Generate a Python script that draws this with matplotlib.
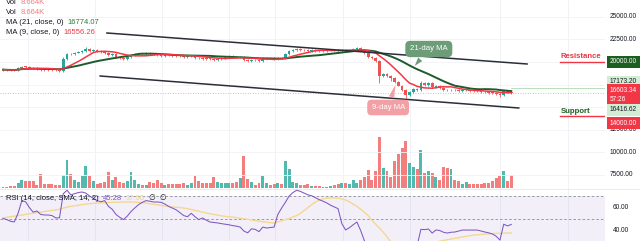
import matplotlib
matplotlib.use("Agg")
import matplotlib.pyplot as plt
import numpy as np
import pandas as pd
from matplotlib.lines import Line2D
from matplotlib.transforms import blended_transform_factory

plt.rcParams['font.family'] = ['Liberation Sans', 'DejaVu Sans']

# ---------------- data ----------------
closes = [
    19150, 19120, 19100, 19080, 19300, 19500, 19450, 19350, 19300, 19250,
    19150, 19130, 19120, 19100, 19080, 19050, 20300, 20900, 20850, 21050,
    21150, 21200, 21400, 21250, 21300, 21200, 21100, 21000, 20800, 20900,
    20600, 20450, 20350, 20500, 20750, 20850, 20900, 20850, 20950, 20900,
    20850, 20750, 20700, 20800, 20750, 20700, 20680, 20650, 20600, 20650,
    20700, 20450, 20400, 20380, 20350, 20330, 20200, 20350, 20450, 20550,
    20650, 20550, 20500, 20600, 20200, 20150, 20250, 20200, 20150, 20400,
    20450, 20400, 20350, 20450, 20400, 20900, 21200, 21300, 21400, 21350,
    21300, 21250, 21300, 21250, 21200, 21250, 21300, 21350, 21300, 21250,
    21350, 21300, 21350, 21450, 21500, 21300, 21000, 20600, 20400, 20100,
    18400, 18650, 18500, 18200, 17800, 17400, 16900, 16400, 16700, 17000,
    16850, 17650, 17500, 17650, 17250, 17350, 17150, 16950, 16850, 16950,
    16850, 16800, 16850, 16900, 16820, 16780, 16740, 16700, 16660, 16620,
    16580, 16500, 16350, 16750, 16680, 16603,
]
first_open = 19200
long_lows = {100: 17700, 107: 16050, 132: 16100, 103: 17900}
long_highs = {111: 17950, 16: 20550, 100: 20200, 22: 21650}

volume_k = [
    0.67, 0.67, 1.0, 1.33, 3.33, 5.33, 4.67, 4.67, 4.67, 2.0,
    9.33, 2.67, 2.67, 2.67, 2.0, 2.0, 8.66, 18.66, 9.33, 5.33,
    4.0, 8.0, 14.66, 8.0, 4.67, 2.67, 3.33, 4.0, 10.66, 5.33,
    7.33, 4.0, 3.33, 4.67, 10.66, 5.33, 2.67, 2.0, 2.0, 4.0,
    3.33, 5.33, 3.33, 2.0, 2.67, 2.67, 2.67, 2.67, 3.33, 2.0,
    3.33, 8.0, 4.67, 3.33, 3.33, 3.33, 7.33, 4.0, 3.33, 3.33,
    3.33, 3.33, 4.0, 6.66, 21.33, 6.0, 4.0, 2.0, 3.33, 8.0,
    3.33, 2.0, 2.67, 3.33, 2.67, 18.0, 12.66, 4.0, 3.33, 2.0,
    2.0, 2.67, 1.33, 1.33, 1.33, 0.67, 0.67, 1.33, 2.0, 2.67,
    3.33, 3.33, 2.67, 5.33, 3.33, 5.33, 7.33, 12.0, 5.33, 11.33,
    34.0, 13.33, 11.33, 7.33, 18.0, 22.66, 26.66, 31.33, 16.66, 14.0,
    12.66, 25.33, 10.0, 11.33, 10.0, 7.33, 5.33, 14.0, 13.33, 12.66,
    5.33, 4.67, 2.67, 4.0, 2.67, 2.67, 2.67, 2.67, 3.33, 3.33,
    4.67, 6.66, 8.0, 11.33, 4.67, 8.66,
]

rsi_vals = [
    50.5, 49.5, 48, 47.5, 55, 66, 65, 60, 56, 57,
    54, 53.5, 53.5, 53, 51, 51, 72, 75, 71, 72,
    73, 73.5, 72.5, 70, 68, 66, 65, 66, 61, 58.5,
    54, 51.5, 49.5, 52.5, 56.5, 59.6, 62.5, 64.5, 66, 65.5,
    64.8, 64.8, 64.5, 63, 61, 59.5, 58, 55.5, 53, 52,
    55, 52, 49.5, 50.9, 49, 47.4, 47, 46.6, 46, 45.5,
    45, 44.3, 43.8, 43, 39.5, 38, 41.5, 41, 39, 43,
    42.2, 42.6, 43, 54, 59.5, 64.5, 70, 73, 75, 74,
    72.5, 71, 70.2, 68.5, 66.8, 65.5, 64, 62, 60.5, 59,
    46, 40.5, 42.5, 45, 47.4, 40, 31, 27, 25, 24,
    20, 22, 21, 19, 17, 15, 13, 12, 18, 24,
    27, 41, 40.8, 41.3, 37.8, 40.5, 40, 38.5, 37.8, 38.5,
    38.7, 39.5, 40.4, 40.4, 40.4, 40.4, 40.4, 39.5, 38.7, 38,
    37, 35, 31.7, 45.5, 44, 45.3,
]
rsi_sma = [
    51, 51.5, 52, 52.5, 53, 53.5, 54, 54.5, 55, 55.5,
    56, 56.5, 57, 57.5, 58, 58.5, 59.5, 60.4, 61, 61.5,
    62, 62.5, 63, 63.3, 63.6, 63.9, 64, 64.2, 64.4, 64.5,
    64.6, 64.7, 64.8, 64.8, 64.8, 64.7, 64.5, 64.2, 63.8, 63.3,
    62.8, 62.3, 61.8, 61.3, 60.8, 60.4, 60.2, 60.0, 59.5, 59.0,
    58.3, 57.5, 56.8, 56, 55.3, 54.6, 54, 53.4, 52.8, 52.3,
    51.9, 51.7, 51.2, 50.7, 50.2, 49.7, 49.2, 48.7, 48.2, 47.7,
    47.2, 46.8, 46.5, 47.5, 48.5, 49.5, 50.5, 51.7, 53, 55,
    57.5, 60, 62.5, 64.8, 66.5, 67.5, 68.2, 68.3, 68.3, 68.0,
    67.5, 66.5, 65, 63, 61, 58.5, 56, 53, 49, 45.5,
    42, 38.5, 34.5, 30, 27.5, 25.5, 24, 23, 22.5, 22.5,
    23, 24, 25.5, 27, 28.5, 29.8, 30.8, 31.4, 32, 32.6,
    33.2, 33.8, 34.4, 35, 35.5, 36, 36.3, 36.6, 36.9, 37.1,
    37.3, 37.5, 37.6, 37.7, 37.8, 37.9,
]

upper_trend_x = [27.6, 139.2]
upper_trend_y = [23208, 19779]
lower_trend_x = [25.8, 137.0]
lower_trend_y = [18451, 14912]
resistance = 20000
support = 14000
last_price = 16603.34
marked_level = 17173.20
scale_ticks = [25000, 22500, 12500, 10000, 7500]
rsi_ticks = [60, 40]

# ---------------- figure ----------------
W, H = 640, 241
fig = plt.figure(figsize=(6.4, 2.41), dpi=100)
fig.patch.set_facecolor('white')

def fx(px):
    return px / W

def fy(py):
    return 1 - py / H

PANE_R = 605
PRICE_B = 189
price_rect = [0, fy(PRICE_B), fx(PANE_R), PRICE_B / H]
rsi_rect = [0, 0, fx(PANE_R), (H - PRICE_B) / H]

ax_vol = fig.add_axes(price_rect)
ax = fig.add_axes(price_rect, sharex=ax_vol)
ax_rsi = fig.add_axes(rsi_rect, sharex=ax_vol)
for a in (ax_vol, ax, ax_rsi):
    a.patch.set_visible(False)
    for s in a.spines.values():
        s.set_visible(False)
    a.set_xticks([])
    a.set_yticks([])

# faint vertical grid (figure-level)
for gp in [28, 95, 162, 229, 275, 343, 410, 500, 568]:
    fig.add_artist(Line2D([fx(gp)] * 2, [0, 1], color='#eef0f5', lw=0.6, zorder=-5))
# separator between panes
fig.add_artist(Line2D([0, 1], [fy(PRICE_B)] * 2, color='#e6e8ee', lw=0.6, zorder=-4))

n = len(closes)
idx = np.arange(n)
c = np.array(closes, dtype=float)
o = np.concatenate([[first_open], c[:-1]])
up = c >= o
wick = 110
hi = np.maximum(o, c) + wick
lo = np.minimum(o, c) - wick
for k, v in long_lows.items():
    lo[k] = v
for k, v in long_highs.items():
    hi[k] = v

GREEN = '#26a69a'
RED = '#ef5350'
cols = np.where(up, GREEN, RED)
vcols = np.where(up, '#52b9af', '#f27f7d')

xmin, xmax = -0.8, 159.9
ax.set_xlim(xmin, xmax)
ax.set_ylim(5951, 26858)
ax_vol.set_ylim(-0.6665, 125.3)
ax_rsi.set_ylim(30.9, 76.1)

# horizontal faint grid
for lvl in [25000, 22500, 20000, 17500, 15000, 12500, 10000, 7500]:
    ax.axhline(lvl, color='#f1f3f7', lw=0.6, zorder=0)

# volume
ax_vol.bar(idx, volume_k, width=0.78, color=vcols, linewidth=0, zorder=1)

# candles
ax.vlines(idx, lo, hi, colors=cols, lw=0.6, zorder=3)
body_b = np.minimum(o, c)
body_h = np.maximum(np.abs(c - o), 70)
ax.bar(idx, body_h, bottom=body_b, width=0.72, color=cols, linewidth=0, zorder=3)

# moving averages
s = pd.Series(c)
ma9 = s.rolling(9, min_periods=1).mean()
ma21 = s.rolling(21, min_periods=1).mean()
ax.plot(idx, ma21, color='#1d5a2c', lw=1.4, zorder=4)
ax.plot(idx, ma9, color='#f23645', lw=1.1, zorder=4)

# trend channel
ax.plot(upper_trend_x, upper_trend_y, color='#2a2e39', lw=1.1, zorder=5)
ax.plot(lower_trend_x, lower_trend_y, color='#2a2e39', lw=1.1, zorder=5)

# price line & marked level
ax.axhline(last_price, color='#f23645', lw=0.6, ls=(0, (1, 2)), alpha=0.55, zorder=2)
ax.plot([n - 1, xmax], [marked_level] * 2, color='#b9dfbb', lw=0.7, zorder=2)

# resistance / support rays
ray_x0 = 147.9
ax.plot([ray_x0, xmax], [resistance] * 2, color='#f23645', lw=1.0, zorder=5)
ax.annotate('Resistance', xy=(ray_x0, resistance), xytext=(0.5, 1.2),
            textcoords='offset points', ha='left', va='bottom',
            fontsize=5.6, fontweight='bold', color='#e53945')
ax.plot([ray_x0, xmax], [support] * 2, color='#f23645', lw=1.0, zorder=5)
ax.annotate('Support', xy=(ray_x0, support), xytext=(0.5, 1.2),
            textcoords='offset points', ha='left', va='bottom',
            fontsize=5.6, fontweight='bold', color='#1b5e20')

# callouts
ax.annotate('21-day MA', xy=(108.9, 19336), xytext=(113.1, 21438),
            ha='center', va='center', fontsize=5.6, color='white',
            bbox=dict(boxstyle='round,pad=0.6', fc='#6d9c79', ec='none'),
            arrowprops=dict(arrowstyle='wedge,tail_width=0.7,shrink_factor=0.5',
                            fc='#6d9c79', ec='none'), zorder=6)
ax.annotate('9-day MA', xy=(104.5, 17800), xytext=(102.3, 14967),
            ha='center', va='center', fontsize=5.6, color='white',
            bbox=dict(boxstyle='round,pad=0.55', fc='#f2a0a6', ec='none'),
            arrowprops=dict(arrowstyle='wedge,tail_width=0.7,shrink_factor=0.5',
                            fc='#f2a0a6', ec='none'), zorder=6)

# ---------------- right scale labels ----------------
tr = blended_transform_factory(ax.transAxes, ax.transData)
LX = 1.0 + 5 / PANE_R
RFS = 4.7
for t in scale_ticks:
    ax.text(LX, t, f'{t:.2f}', transform=tr, fontsize=RFS, va='center', ha='left',
            color='#131722', clip_on=False, zorder=7)

def box_label(val, text, fc, tc, dy_pt=0.0, z=8):
    ax.annotate(text, xy=(LX, val), xycoords=tr, xytext=(0, dy_pt), textcoords='offset points',
                fontsize=RFS, va='center', ha='left', color=tc, linespacing=1.5,
                bbox=dict(boxstyle='square,pad=0.45', fc=fc, ec='none'),
                annotation_clip=False, zorder=z)

box_label(resistance, f'{resistance:.2f}', '#1b5e20', 'white')
box_label(marked_level, f'{marked_level:.2f}', '#d3ecd4', '#131722', dy_pt=4.0)
box_label(last_price, f'{last_price:.2f}\n57:26', '#f23645', 'white', dy_pt=-1.8)
box_label(16416.62, '16416.62', '#d3ecd4', '#131722', dy_pt=-11.2)
box_label(support, f'{support:.2f}', '#f23645', 'white', dy_pt=-4.9, z=9)

# ---------------- RSI pane ----------------
ax_rsi.axhspan(30, 70, color='#7e57c2', alpha=0.09, lw=0, zorder=0)
for lvl in (70, 50, 30):
    ax_rsi.axhline(lvl, color='#8a8d96', lw=0.6, ls=(0, (3, 2.5)), zorder=1)
ax_rsi.plot(idx, rsi_sma, color='#f5d78e', lw=1.0, zorder=2)
ax_rsi.plot(idx, rsi_vals, color='#7e57c2', lw=0.75, zorder=3)
trr = blended_transform_factory(ax_rsi.transAxes, ax_rsi.transData)
for t in rsi_ticks:
    ax_rsi.text(LX + 3 / PANE_R, t, f'{t:.2f}', transform=trr, fontsize=RFS, va='center',
                ha='left', color='#131722', clip_on=False)

# ---------------- legends ----------------
LFS = 5.5
DARK = '#131722'
def legend_line(y, label, value, vcol):
    t = fig.text(fx(6), fy(y), label, fontsize=LFS, color=DARK, va='center', ha='left')
    fig.canvas.draw()
    bb = t.get_window_extent()
    fig.text((bb.x1 + 4) / W, fy(y), value, fontsize=LFS, color=vcol, va='center', ha='left')

legend_line(2.5, 'Vol', '8.664K', '#f47c80')
legend_line(13, 'Vol', '8.664K', '#f47c80')
legend_line(23, 'MA (21, close, 0)', '16774.07', '#2e7d32')
legend_line(33, 'MA (9, close, 0)', '16556.26', '#f23645')

t = fig.text(fx(6), fy(198), 'RSI (14, close, SMA, 14, 2)', fontsize=LFS, color=DARK,
             va='center', ha='left')
fig.canvas.draw()
bb = t.get_window_extent()
t2 = fig.text((bb.x1 + 4) / W, fy(198), '45.28', fontsize=LFS, color='#7e57c2', va='center', ha='left')
fig.canvas.draw()
bb2 = t2.get_window_extent()
t3 = fig.text((bb2.x1 + 4) / W, fy(198), '37.90', fontsize=LFS, color='#f2d27f', va='center', ha='left')
fig.canvas.draw()
bb3 = t3.get_window_extent()
fig.text((bb3.x1 + 4) / W, fy(198), '\u2205  \u2205', fontsize=LFS, color=DARK, va='center', ha='left')

fig.savefig('out.png', dpi=100, facecolor='white')
